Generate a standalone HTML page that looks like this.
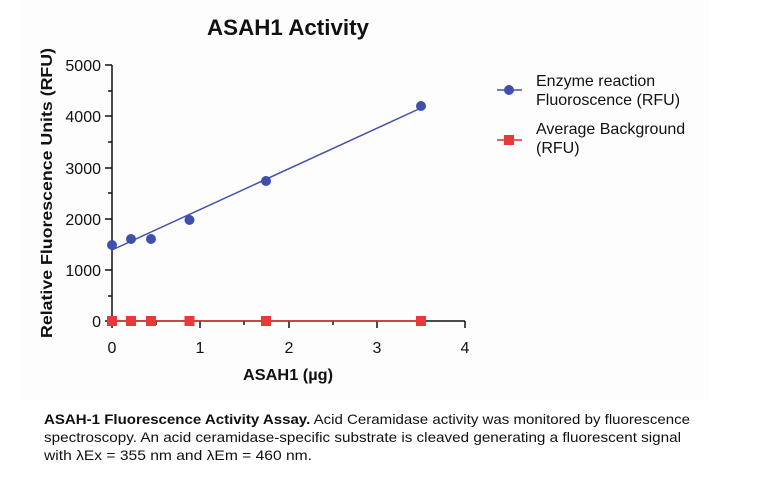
<!DOCTYPE html>
<html><head><meta charset="utf-8"><style>
html,body{margin:0;padding:0;background:#fff}
svg{display:block}
text{font-family:"Liberation Sans",Arial,sans-serif;fill:#111}
</style></head><body>
<svg width="774" height="478" viewBox="0 0 774 478" xmlns="http://www.w3.org/2000/svg">
<rect x="0" y="0" width="774" height="478" fill="#fff"/>
<rect x="20" y="0" width="690" height="400" fill="#fdfdfd"/>
<text x="288" y="35" font-size="22" font-weight="bold" text-anchor="middle" textLength="162" lengthAdjust="spacingAndGlyphs">ASAH1 Activity</text>
<g stroke="#111" stroke-width="1.5" fill="none">
<line x1="112" y1="65" x2="112" y2="321"/>
<line x1="105" y1="65" x2="112" y2="65"/>
<line x1="105" y1="116" x2="112" y2="116"/>
<line x1="105" y1="168" x2="112" y2="168"/>
<line x1="105" y1="219" x2="112" y2="219"/>
<line x1="105" y1="270" x2="112" y2="270"/>
<line x1="105" y1="321" x2="112" y2="321"/>
<line x1="108" y1="91" x2="112" y2="91"/>
<line x1="108" y1="142" x2="112" y2="142"/>
<line x1="108" y1="193" x2="112" y2="193"/>
<line x1="108" y1="244" x2="112" y2="244"/>
<line x1="108" y1="296" x2="112" y2="296"/>
<line x1="112" y1="321" x2="465" y2="321"/>
<line x1="112" y1="321" x2="112" y2="328"/>
<line x1="200" y1="321" x2="200" y2="328"/>
<line x1="289" y1="321" x2="289" y2="328"/>
<line x1="377" y1="321" x2="377" y2="328"/>
<line x1="465" y1="321" x2="465" y2="328"/>
<line x1="156" y1="321" x2="156" y2="325"/>
<line x1="244" y1="321" x2="244" y2="325"/>
<line x1="333" y1="321" x2="333" y2="325"/>
<line x1="421" y1="321" x2="421" y2="325"/>
</g>
<g font-size="16" text-anchor="end">
<text x="101" y="71">5000</text>
<text x="101" y="122">4000</text>
<text x="101" y="174">3000</text>
<text x="101" y="225">2000</text>
<text x="101" y="276">1000</text>
<text x="101" y="327">0</text>
</g>
<g font-size="16" text-anchor="middle">
<text x="112" y="353">0</text>
<text x="200" y="353">1</text>
<text x="289" y="353">2</text>
<text x="377" y="353">3</text>
<text x="465" y="353">4</text>
</g>
<text x="288" y="380" font-size="16" font-weight="bold" text-anchor="middle" textLength="90" lengthAdjust="spacingAndGlyphs">ASAH1 (µg)</text>
<text transform="translate(52,193) rotate(-90)" font-size="16" font-weight="bold" text-anchor="middle" textLength="290" lengthAdjust="spacingAndGlyphs">Relative Fluorescence Units (RFU)</text>
<line x1="112" y1="250" x2="421" y2="108" stroke="#4452b0" stroke-width="1.5"/>
<line x1="112" y1="321" x2="421" y2="321" stroke="#e03030" stroke-width="1.5"/>
<g fill="#3f4fae">
<circle cx="112" cy="245" r="5"/>
<circle cx="131" cy="239" r="5"/>
<circle cx="151" cy="239" r="5"/>
<circle cx="189.5" cy="220" r="5"/>
<circle cx="266" cy="181" r="5"/>
<circle cx="421" cy="106" r="5"/>
</g>
<g fill="#e8393a">
<rect x="107" y="316" width="10" height="10"/>
<rect x="126" y="316" width="10" height="10"/>
<rect x="146" y="316" width="10" height="10"/>
<rect x="184.5" y="316" width="10" height="10"/>
<rect x="261" y="316" width="10" height="10"/>
<rect x="416" y="316" width="10" height="10"/>
</g>
<line x1="497" y1="90" x2="522" y2="90" stroke="#4452b0" stroke-width="1.5"/>
<circle cx="509" cy="90" r="5" fill="#3f4fae"/>
<line x1="497" y1="140" x2="522" y2="140" stroke="#e03030" stroke-width="1.5"/>
<rect x="504" y="135" width="10" height="10" fill="#e8393a"/>
<g font-size="16">
<text x="536" y="86">Enzyme reaction</text>
<text x="536" y="105">Fluoroscence (RFU)</text>
<text x="536" y="134">Average Background</text>
<text x="536" y="153">(RFU)</text>
</g>
<g font-size="14">
<text x="44" y="424" textLength="646" lengthAdjust="spacingAndGlyphs"><tspan font-weight="bold">ASAH-1 Fluorescence Activity Assay.</tspan> Acid Ceramidase activity was monitored by fluorescence</text>
<text x="44" y="442" textLength="637" lengthAdjust="spacingAndGlyphs">spectroscopy. An acid ceramidase-specific substrate is cleaved generating a fluorescent signal</text>
<text x="44" y="460" textLength="268" lengthAdjust="spacingAndGlyphs">with λEx = 355 nm and λEm = 460 nm.</text>
</g>
</svg>
</body></html>
